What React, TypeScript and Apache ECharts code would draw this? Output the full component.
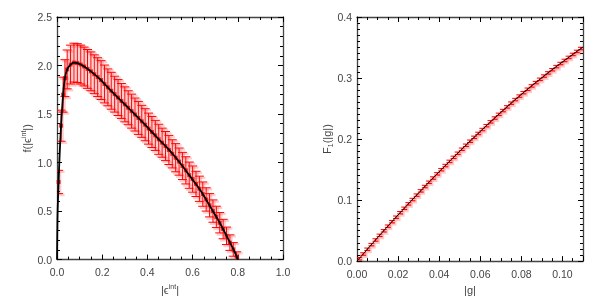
import React, { useEffect, useRef } from 'react';
import * as echarts from 'echarts';

// Left panel: smooth curve f(|eps_int|)
const fLineX = [0, 0.002, 0.004, 0.007, 0.012, 0.018, 0.027, 0.035, 0.045, 0.06, 0.075, 0.09, 0.105, 0.12, 0.15, 0.19, 0.235, 0.3, 0.36, 0.41, 0.45, 0.5, 0.55, 0.588, 0.633, 0.677, 0.72, 0.76, 0.788, 0.8];
const fLineY = [0, 0.42, 0.6, 0.8, 1.1, 1.38, 1.7, 1.87, 1.96, 2.01, 2.03, 2.025, 2.01, 1.99, 1.94, 1.86, 1.75, 1.6, 1.46, 1.34, 1.24, 1.12, 0.98, 0.86, 0.72, 0.55, 0.38, 0.2, 0.07, 0];

// Left panel: binned points with error bars
const fPointX = [0.007, 0.018, 0.027, 0.035, 0.045, 0.06, 0.075, 0.09, 0.105, 0.12, 0.135, 0.15, 0.165, 0.18, 0.195, 0.21, 0.225, 0.24, 0.255, 0.27, 0.285, 0.3, 0.315, 0.33, 0.345, 0.36, 0.375, 0.39, 0.405, 0.42, 0.435, 0.45, 0.465, 0.48, 0.495, 0.51, 0.525, 0.54, 0.555, 0.57, 0.585, 0.6, 0.615, 0.63, 0.645, 0.66, 0.675, 0.69, 0.705, 0.72, 0.735, 0.75, 0.765, 0.78, 0.795];
const fPointY = [0.8, 1.38, 1.7, 1.87, 1.96, 2.01, 2.03, 2.025, 2.01, 1.99, 1.965, 1.94, 1.91, 1.88, 1.85, 1.81, 1.775, 1.74, 1.705, 1.67, 1.635, 1.6, 1.565, 1.53, 1.495, 1.46, 1.425, 1.39, 1.35, 1.315, 1.28, 1.24, 1.205, 1.17, 1.13, 1.09, 1.05, 1.01, 0.965, 0.92, 0.87, 0.83, 0.78, 0.73, 0.675, 0.62, 0.56, 0.5, 0.44, 0.38, 0.315, 0.245, 0.175, 0.105, 0.03];
const fPointErr = [0.12, 0.16, 0.18, 0.19, 0.2, 0.2, 0.2, 0.2, 0.2, 0.2, 0.2, 0.2, 0.2, 0.2, 0.2, 0.195, 0.19, 0.19, 0.185, 0.185, 0.18, 0.18, 0.175, 0.175, 0.17, 0.17, 0.165, 0.165, 0.16, 0.16, 0.155, 0.155, 0.15, 0.15, 0.15, 0.145, 0.145, 0.14, 0.14, 0.14, 0.135, 0.135, 0.13, 0.13, 0.125, 0.12, 0.12, 0.115, 0.11, 0.105, 0.1, 0.09, 0.08, 0.07, 0.05];

// Right panel: F_1(|g|)
const gPointX = [0.001, 0.003, 0.005, 0.007, 0.009, 0.011, 0.013, 0.015, 0.017, 0.019, 0.021, 0.023, 0.025, 0.027, 0.029, 0.031, 0.033, 0.035, 0.037, 0.039, 0.041, 0.043, 0.045, 0.047, 0.049, 0.051, 0.053, 0.055, 0.057, 0.059, 0.061, 0.063, 0.065, 0.067, 0.069, 0.071, 0.073, 0.075, 0.077, 0.079, 0.081, 0.083, 0.085, 0.087, 0.089, 0.091, 0.093, 0.095, 0.097, 0.099, 0.101, 0.103, 0.105, 0.107, 0.109];
const gPointY = [0.0039, 0.0116, 0.0194, 0.027, 0.0346, 0.0422, 0.0497, 0.0572, 0.0646, 0.0719, 0.0793, 0.0865, 0.0938, 0.1009, 0.1081, 0.1151, 0.1222, 0.1292, 0.1361, 0.143, 0.1498, 0.1566, 0.1634, 0.17, 0.1767, 0.1833, 0.1898, 0.1964, 0.2028, 0.2092, 0.2156, 0.2219, 0.2282, 0.2344, 0.2405, 0.2467, 0.2527, 0.2588, 0.2647, 0.2704, 0.276, 0.2816, 0.2871, 0.2925, 0.2979, 0.3032, 0.3084, 0.3136, 0.3187, 0.3238, 0.3288, 0.3338, 0.3387, 0.3436, 0.3484];
const gPointErr = 0.002;
const gLineX = [0, 0.001, 0.011, 0.021, 0.031, 0.041, 0.051, 0.061, 0.071, 0.081, 0.091, 0.101, 0.11];
const gLineY = [0, 0.0039, 0.0422, 0.0793, 0.1151, 0.1498, 0.1833, 0.2156, 0.2467, 0.276, 0.3032, 0.3288, 0.3508];

const AXIS = '#444';
const TEXT = '#444';
const FONT = 'Liberation Sans, Arial, sans-serif';

function errorBar(capHalf: number, haloAlpha: number) {
  return (params: any, api: any) => {
    const x = api.value(0);
    const y = api.value(1);
    const e = api.value(2);
    const hi = api.coord([x, y + e]);
    const lo = api.coord([x, y - e]);
    const red = { stroke: '#ff0000', lineWidth: 1 };
    const halo = { stroke: `rgba(255,80,80,${haloAlpha})`, lineWidth: 2.5 };
    const seg = (x1: number, y1: number, x2: number, y2: number, st: any) => ({
      type: 'line',
      shape: { x1, y1, x2, y2 },
      style: st,
    });
    return {
      type: 'group',
      children: [
        seg(hi[0] + 1.5, hi[1] + 1, lo[0] + 1.5, lo[1] + 1, halo),
        seg(hi[0] - capHalf + 1.5, hi[1] + 1.5, hi[0] + capHalf + 1.5, hi[1] + 1.5, halo),
        seg(lo[0] - capHalf + 1.5, lo[1] + 1.5, lo[0] + capHalf + 1.5, lo[1] + 1.5, halo),
        seg(hi[0], hi[1], lo[0], lo[1], red),
        seg(hi[0] - capHalf, hi[1], hi[0] + capHalf, hi[1], red),
        seg(lo[0] - capHalf, lo[1], lo[0] + capHalf, lo[1], red),
      ],
    };
  };
}

function makeAxis(kind: 'x' | 'y', grid: number, pos: string, min: number, max: number, interval: number, minorSplit: number, digits: number, labels: boolean, name?: string, nameGap?: number, rich?: any) {
  return {
    type: 'value',
    gridIndex: grid,
    position: pos,
    min,
    max,
    interval,
    name: name || '',
    nameLocation: 'middle',
    nameGap: nameGap || 0,
    nameTextStyle: { color: TEXT, fontFamily: FONT, fontSize: 11, rich },
    axisLine: { show: true, onZero: false, lineStyle: { color: AXIS, width: 1.3 } },
    axisTick: { show: true, inside: true, length: 5, lineStyle: { color: '#000', width: 1 } },
    minorTick: { show: true, splitNumber: minorSplit, length: 3, lineStyle: { color: '#000', width: 1 } },
    splitLine: { show: true, lineStyle: { color: '#ffffff', width: 1 } },
    minorSplitLine: { show: false },
    axisLabel: {
      show: labels,
      color: TEXT,
      fontFamily: FONT,
      fontSize: 10.5,
      margin: kind === 'x' ? 7 : 5,
      showMaxLabel: Math.abs(max / interval - Math.round(max / interval)) < 1e-6,
      formatter: (v: number) => v.toFixed(digits),
    },
  };
}

export default function App() {
  const ref = useRef<HTMLDivElement>(null);
  useEffect(() => {
    const chart = echarts.init(ref.current!, null, { renderer: 'svg' });
    const richSup = {
      n: { fontSize: 11, color: TEXT, fontFamily: FONT },
      s: { fontSize: 7, color: TEXT, fontFamily: FONT, padding: [0, 0, 7, 0] },
      b: { fontSize: 7, color: TEXT, fontFamily: FONT, padding: [6, 0, 0, 0] },
    };
    const option: any = {
      animation: false,
      grid: [
        { left: 57, top: 17, width: 226, height: 246 },
        { left: 357, top: 17, width: 226, height: 246 },
      ],
      xAxis: [
        makeAxis('x', 0, 'bottom', 0, 1, 0.2, 4, 1, true, '{n||ϵ}{s|int}{n||}', 13, richSup),
        makeAxis('x', 0, 'top', 0, 1, 0.2, 4, 1, false),
        makeAxis('x', 1, 'bottom', 0, 0.11, 0.02, 4, 2, true, '{n||g|}', 13, richSup),
        makeAxis('x', 1, 'top', 0, 0.11, 0.02, 4, 2, false),
      ],
      yAxis: [
        makeAxis('y', 0, 'left', 0, 2.5, 0.5, 5, 1, true, '{n|f(|ϵ}{s|int}{n||)}', 23, richSup),
        makeAxis('y', 0, 'right', 0, 2.5, 0.5, 5, 1, false),
        makeAxis('y', 1, 'left', 0, 0.4, 0.1, 10, 1, true, '{n|F}{b|1}{n|(|g|)}', 23, richSup),
        makeAxis('y', 1, 'right', 0, 0.4, 0.1, 10, 1, false),
      ],
      series: [
        {
          type: 'custom',
          xAxisIndex: 0,
          yAxisIndex: 0,
          clip: true,
          renderItem: errorBar(4.5, 0.28),
          data: fPointX.map((x, i) => [x, fPointY[i], fPointErr[i]]),
          z: 2,
        },
        {
          type: 'scatter',
          xAxisIndex: 0,
          yAxisIndex: 0,
          symbol: 'rect',
          symbolSize: 4,
          itemStyle: { color: '#e00000' },
          data: fPointX.map((x, i) => [x, fPointY[i]]),
          z: 3,
        },
        {
          type: 'line',
          xAxisIndex: 0,
          yAxisIndex: 0,
          smooth: 0.3,
          showSymbol: false,
          lineStyle: { color: '#000', width: 1.8 },
          data: fLineX.map((x, i) => [x, fLineY[i]]),
          z: 4,
        },
        {
          type: 'custom',
          xAxisIndex: 2,
          yAxisIndex: 2,
          clip: true,
          renderItem: errorBar(3, 0.3),
          data: gPointX.map((x, i) => [x, gPointY[i], gPointErr]),
          z: 2,
        },
        {
          type: 'line',
          xAxisIndex: 2,
          yAxisIndex: 2,
          smooth: 0.3,
          showSymbol: false,
          lineStyle: { color: '#000', width: 1 },
          data: gLineX.map((x, i) => [x, gLineY[i]]),
          z: 4,
        },
      ],
    };
    chart.setOption(option);
    return () => chart.dispose();
  }, []);
  return <div ref={ref} style={{ position: 'fixed', left: 0, top: 0, width: 600, height: 300 }} />;
}
